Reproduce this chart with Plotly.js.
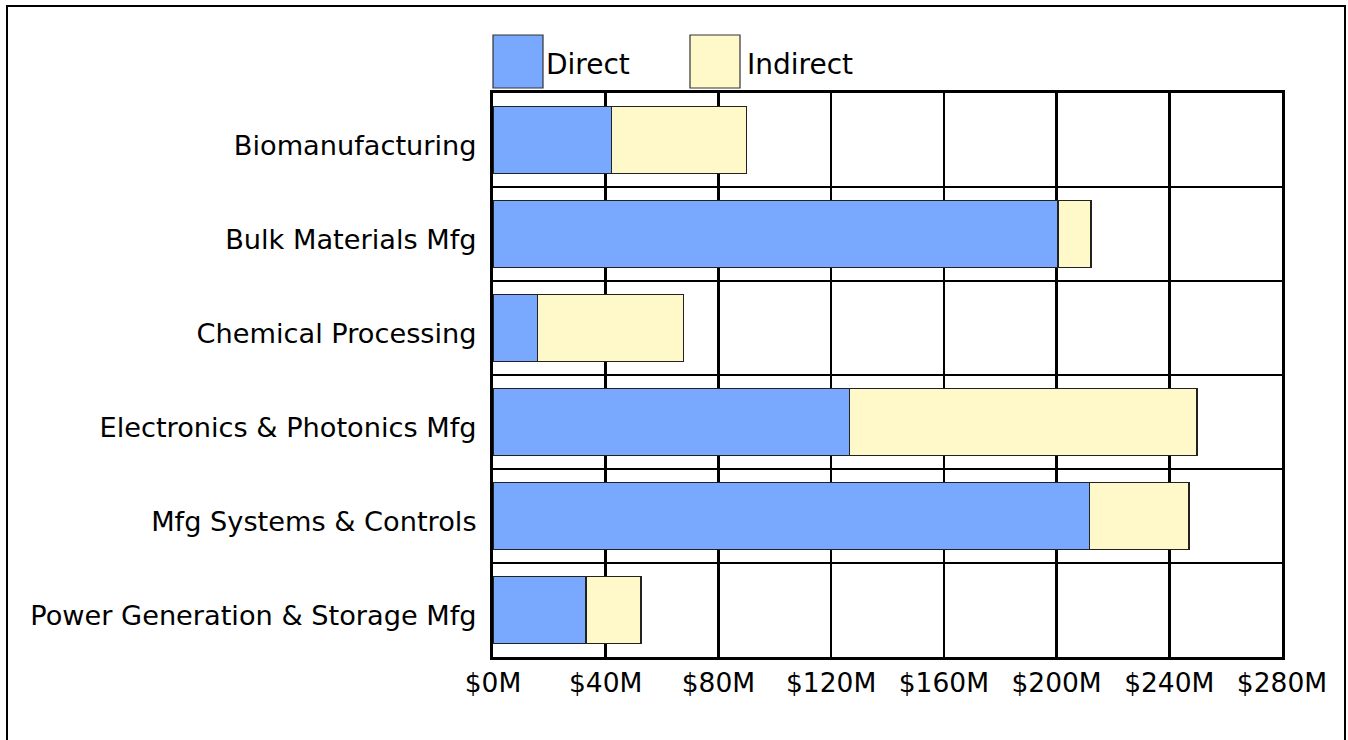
<!DOCTYPE html>
<html>
<head>
<meta charset="utf-8">
<script src="https://cdn.plot.ly/plotly-3.0.1.min.js"></script>
<style>
  html, body { margin: 0; padding: 0; background: #fff; overflow: hidden; width: 1348px; height: 740px; }
  #chart { position: absolute; left: 0; top: 0; width: 1348px; height: 740px; }
  #frame { position: absolute; left: 6px; top: 5px; width: 1336px; height: 800px; border: 2px solid #000; pointer-events: none; }
</style>
</head>
<body>
<div id="chart"></div>
<div id="frame"></div>
<script>
// ---- data ----
const categories = [
  "Biomanufacturing",
  "Bulk Materials Mfg",
  "Chemical Processing",
  "Electronics & Photonics Mfg",
  "Mfg Systems & Controls",
  "Power Generation & Storage Mfg"
];
const directValues = [42, 200.5, 15.7, 126.5, 211.8, 33];   // $M
const indirectValues = [48, 11.7, 52, 123.3, 35.2, 19.5];   // $M
const seriesNames = ["Direct", "Indirect"];
const seriesColors = ["#78A9FF", "#FFF8C8"];
const xTickValues = [0, 40, 80, 120, 160, 200, 240, 280];
const xTickLabels = ["$0M", "$40M", "$80M", "$120M", "$160M", "$200M", "$240M", "$280M"];

const FONT = "'DejaVu Sans', Verdana, sans-serif";

const traces = [directValues, indirectValues].map((vals, i) => ({
  type: "bar",
  orientation: "h",
  name: seriesNames[i],
  y: categories,
  x: vals,
  marker: { color: seriesColors[i], line: { color: "#222", width: 1.2 } },
  hoverinfo: "x+y+name"
}));

// plot area in pixels (for legend swatch placement)
const L = 493, R = 1282, T = 93, B = 657;
const W = R - L, H = B - T;
const px = v => (v - L) / W;
const py = v => (B - v) / H;

const legendX = [493, 690];
const legendTextX = [544, 745];
const shapes = [];
const annotations = [];
seriesNames.forEach((n, i) => {
  shapes.push({
    type: "rect", xref: "paper", yref: "paper",
    x0: px(legendX[i]), x1: px(legendX[i] + 50),
    y0: py(88), y1: py(35),
    fillcolor: seriesColors[i],
    line: { color: "#333", width: 1.2 }
  });
  annotations.push({
    xref: "paper", yref: "paper",
    x: px(legendTextX[i]), y: py(64),
    xanchor: "left", yanchor: "middle",
    text: n, showarrow: false,
    font: { family: FONT, size: 28, color: "#000" }
  });
});

const layout = {
  width: 1348, height: 740,
  margin: { l: 493, r: 66, t: 93, b: 83, pad: 0 },
  paper_bgcolor: "rgba(0,0,0,0)",
  plot_bgcolor: "#fff",
  barmode: "stack",
  bargap: 0.29,
  showlegend: false,
  xaxis: {
    range: [0, 280],
    tickvals: xTickValues,
    ticktext: xTickLabels,
    showgrid: true, gridcolor: "#000", gridwidth: 2.5,
    zeroline: false,
    showline: true, linecolor: "#000", linewidth: 3, mirror: true,
    ticks: "",
    ticklabelstandoff: 0,
    tickfont: { family: FONT, size: 26.5, color: "#000" },
    fixedrange: true
  },
  yaxis: {
    type: "category",
    categoryorder: "array",
    categoryarray: categories,
    autorange: "reversed",
    tickson: "boundaries",
    showgrid: true, gridcolor: "#000", gridwidth: 2.5,
    showline: true, linecolor: "#000", linewidth: 3, mirror: true,
    ticks: "",
    ticklabelstandoff: 8,
    ticklabelshift: -5,
    tickfont: { family: FONT, size: 27.2, color: "#000" },
    fixedrange: true
  },
  shapes: shapes,
  annotations: annotations
};

Plotly.newPlot("chart", traces, layout, { displayModeBar: false, staticPlot: true });
</script>
</body>
</html>
